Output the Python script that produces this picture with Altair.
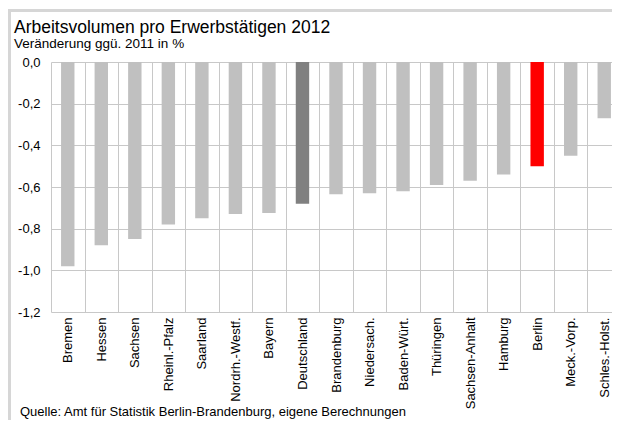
import altair as alt
import pandas as pd

categories = ["Bremen", "Hessen", "Sachsen", "Rheinl.-Pfalz", "Saarland", "Nordrh.-Westf.",
              "Bayern", "Deutschland", "Brandenburg", "Niedersach.", "Baden-Würt.", "Thüringen",
              "Sachsen-Anhalt", "Hamburg", "Berlin", "Meck.-Vorp.", "Schles.-Holst."]
values = [-0.98, -0.88, -0.85, -0.78, -0.75, -0.73, -0.725, -0.68, -0.635, -0.63, -0.62,
          -0.59, -0.57, -0.54, -0.50, -0.45, -0.27]
bar_colors = ["#c0c0c0"] * 7 + ["#808080"] + ["#c0c0c0"] * 6 + ["#ff0000"] + ["#c0c0c0"] * 2
y_ticks = [0.0, -0.2, -0.4, -0.6, -0.8, -1.0, -1.2]

title_text = "Arbeitsvolumen pro Erwerbstätigen 2012"
subtitle_text = "Veränderung ggü. 2011 in %"
source_text = "Quelle: Amt für Statistik Berlin-Brandenburg, eigene Berechnungen"

df = pd.DataFrame({"Land": categories, "Wert": values, "Farbe": bar_colors})
one = pd.DataFrame({"k": [0]})

FONT = "Liberation Sans"
GRID = "#c8c8c8"
FRAME = "#d6d6d6"

bars = alt.Chart(df).mark_bar(width=alt.RelativeBandSize(0.4)).encode(
    x=alt.X("Land:N", sort=categories, title=None,
            scale=alt.Scale(range=[0, 570], paddingInner=0, paddingOuter=0),
            axis=alt.Axis(labelAngle=270, labelFontSize=13, labelFont=FONT, labelColor="#000000",
                          labelPadding=5, ticks=False, domain=False, grid=True, tickBand="extent",
                          gridColor=GRID, gridWidth=1)),
    y=alt.Y("Wert:Q", title=None,
            scale=alt.Scale(domain=[-1.2, 0], nice=False),
            axis=alt.Axis(values=y_ticks, labelFontSize=13, labelFont=FONT, labelColor="#000000",
                          labelPadding=11, ticks=False, domain=False, grid=True,
                          gridColor=GRID, gridWidth=1,
                          labelExpr="(datum.value < -0.001 ? '-' : '') + replace(format(abs(datum.value), '.1f'), '.', ',')")),
    color=alt.Color("Farbe:N", scale=None),
)

frame_top = alt.Chart(one).mark_rule(stroke=FRAME, strokeWidth=3).encode(
    x=alt.value(-43), x2=alt.value(600), y=alt.value(-51.5)
)
frame_left = alt.Chart(one).mark_rule(stroke=FRAME, strokeWidth=3).encode(
    x=alt.value(-41.5), y=alt.value(-53), y2=alt.value(400)
)

title = alt.Chart(one).mark_text(text=title_text, align="left", baseline="alphabetic",
                                 font=FONT, fontSize=17.5, color="#000000").encode(
    x=alt.value(-37), y=alt.value(-29))
subtitle = alt.Chart(one).mark_text(text=subtitle_text, align="left", baseline="alphabetic",
                                    font=FONT, fontSize=13.5, color="#000000").encode(
    x=alt.value(-37), y=alt.value(-14))
source = alt.Chart(one).mark_text(text=source_text, align="left", baseline="alphabetic",
                                  font=FONT, fontSize=13, color="#000000").encode(
    x=alt.value(-31), y=alt.value(354))

chart = alt.layer(frame_top, frame_left, bars, title, subtitle, source).properties(
    width=561, height=250,
    autosize=alt.AutoSizeParams(type="none"),
    padding={"left": 43, "top": 54, "right": 0, "bottom": 108},
).configure_view(stroke=None)

chart.save("out.html", embed_options={"renderer": "svg", "actions": False})
